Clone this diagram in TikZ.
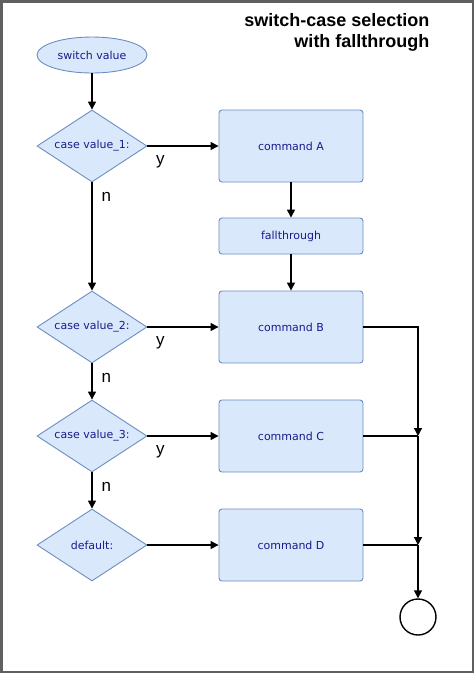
\documentclass[tikz,border=0pt]{standalone}
\usepackage{fontspec}
\setmainfont{DejaVu Sans}
\newfontfamily\labelfont{Liberation Sans}
\usetikzlibrary{shapes.geometric, arrows.meta}

\definecolor{boxfill}{RGB}{218,232,252}
\definecolor{boxline}{RGB}{108,142,191}
\definecolor{boxtext}{RGB}{26,26,140}
\definecolor{framegray}{RGB}{96,96,96}

\tikzset{
  nodetext/.style={draw=boxline, fill=boxfill, text=boxtext, line width=0.9pt, inner sep=0pt, font=\fontsize{11}{13}\selectfont},
  terminal/.style={nodetext, ellipse, minimum width=110, minimum height=36},
  decision/.style={nodetext, diamond, aspect=1.53, minimum width=110, minimum height=72},
  command/.style={nodetext, rectangle, rounded corners=3pt, minimum width=144, minimum height=72},
  flow/.style={line width=1.4pt, -{Triangle[length=8pt,width=8pt]}},
  joinline/.style={line width=1.4pt},
  ylabel/.style={at start, anchor=north west, inner sep=0pt, xshift=8, yshift=-9, font=\labelfont\fontsize{17}{17}\selectfont},
  nlabel/.style={at start, anchor=north west, inner sep=0pt, xshift=9, yshift=-9, font=\labelfont\fontsize{17}{17}\selectfont}
}

\begin{document}
\begin{tikzpicture}[x=1pt, y=-1pt]
\useasboundingbox (0,0) rectangle (474,673);
\draw [framegray, line width=2.5pt] (1.25,1.25) rectangle (472.75,671.75);

\node [anchor=base east, align=right, font=\labelfont\bfseries\fontsize{18}{21}\selectfont] (title) at (433,47) {switch-case selection\\with fallthrough};

% left column
\node [terminal] (start) at (92,55) {switch value};
\node [decision] (case1) at (92,146) {case value\_1:};
\node [decision] (case2) at (92,327) {case value\_2:};
\node [decision] (case3) at (92,436) {case value\_3:};
\node [decision] (dflt) at (92,545) {default:};

% right column
\node [command] (cmdA) at (291,146) {command A};
\node [command, minimum height=36] (fall) at (291,236) {fallthrough};
\node [command] (cmdB) at (291,327) {command B};
\node [command] (cmdC) at (291,436) {command C};
\node [command] (cmdD) at (291,545) {command D};

\node [circle, draw, line width=1.4pt, minimum size=36, inner sep=0pt] (stop) at (418,617) {};
\coordinate (joinC) at (cmdC -| stop);
\coordinate (joinD) at (cmdD -| stop);

\draw [flow] (start) -- (case1);
\draw [flow] (case1) -- (cmdA) node [ylabel] {y};
\draw [flow] (case1) -- (case2) node [nlabel] {n};
\draw [flow] (case2) -- (cmdB) node [ylabel] {y};
\draw [flow] (case2) -- (case3) node [nlabel] {n};
\draw [flow] (case3) -- (cmdC) node [ylabel] {y};
\draw [flow] (case3) -- (dflt) node [nlabel] {n};
\draw [flow] (dflt) -- (cmdD);

\draw [flow] (cmdA) -- (fall);
\draw [flow] (fall) -- (cmdB);

\draw [flow] (cmdB) -| (joinC);
\draw [joinline] (cmdC) -- (joinC);
\draw [flow] (joinC) -- (joinD);
\draw [joinline] (cmdD) -- (joinD);
\draw [flow] (joinD) -- (stop);
\end{tikzpicture}
\end{document}
